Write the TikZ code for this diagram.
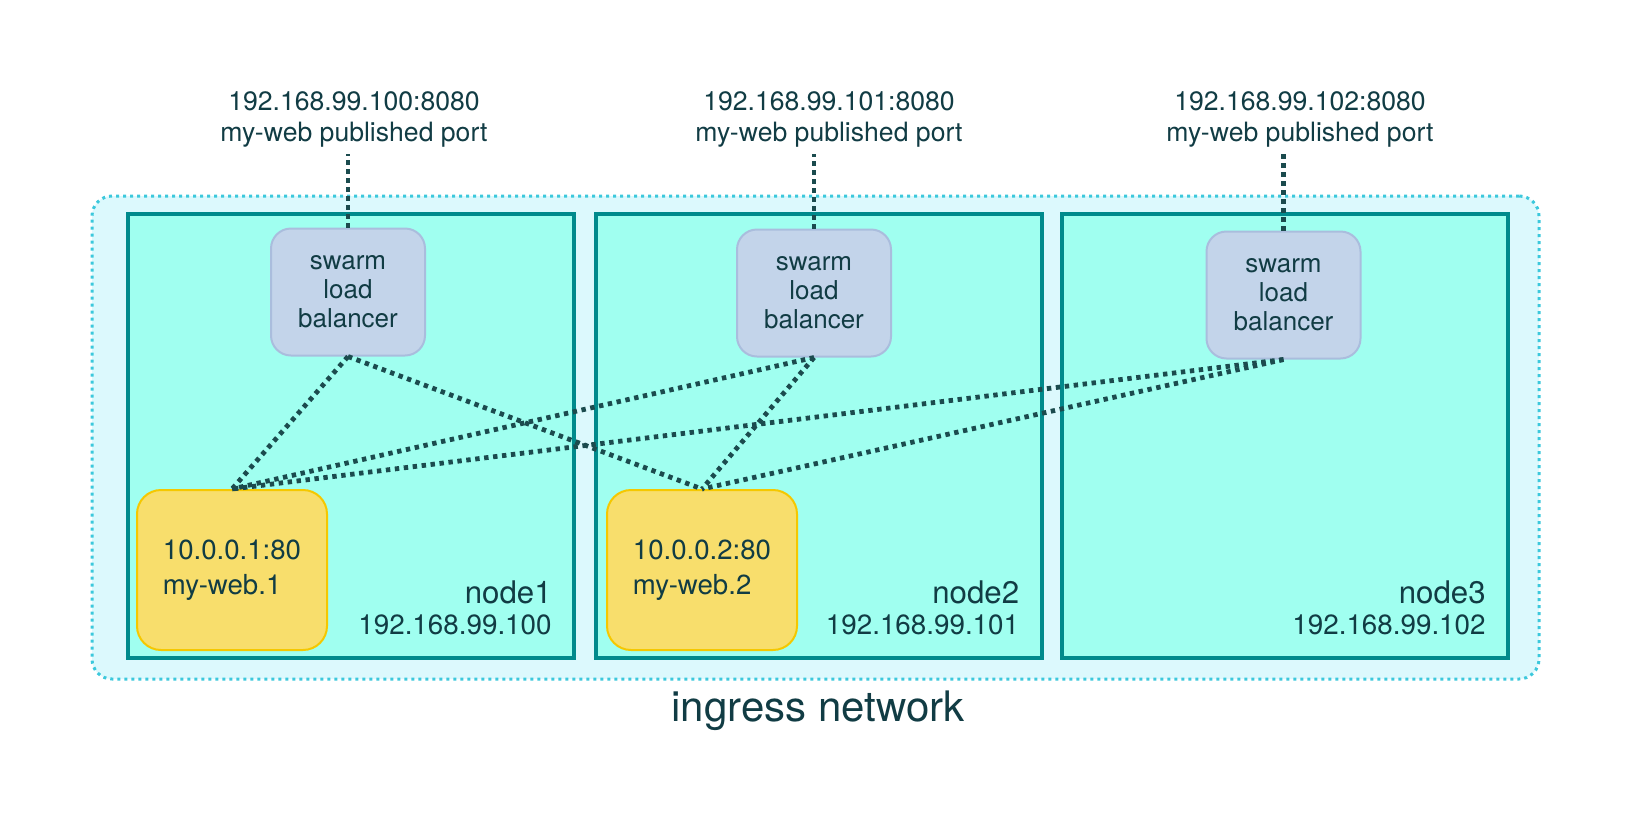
\documentclass[tikz,border=0pt]{standalone}
\usepackage{fontspec}
\setmainfont{TeX Gyre Heros}
\definecolor{ink}{HTML}{113C44}
\definecolor{hostfill}{HTML}{A0FFF0}
\definecolor{hostline}{HTML}{008A8C}
\definecolor{netfill}{HTML}{DCF9FD}
\definecolor{netline}{HTML}{3CC8DC}
\definecolor{lbfill}{HTML}{C3D4EA}
\definecolor{lbline}{HTML}{AABDDD}
\definecolor{webfill}{HTML}{F8DE6C}
\definecolor{webline}{HTML}{F5C800}
\definecolor{linkcol}{HTML}{1B4B4E}
\tikzset{
  net/.style={draw=netline, fill=netfill, line width=1.5pt, dash pattern=on 1.5pt off 2pt,
    rounded corners=10pt, minimum width=723.5pt, minimum height=241.5pt},
  host/.style={draw=hostline, fill=hostfill, line width=2pt, minimum width=223pt, minimum height=222pt},
  lb/.style={draw=lbline, fill=lbfill, line width=1pt, rounded corners=10pt, minimum width=77pt,
    minimum height=63.5pt, align=center, font=\fontsize{13}{14.5}\selectfont},
  web/.style={draw=webline, fill=webfill, line width=1pt, rounded corners=12pt, minimum width=95pt,
    minimum height=80pt, align=left, font=\fontsize{13.8}{17.5}\selectfont},
  pub/.style={align=center, font=\fontsize{13.3}{15.5}\selectfont},
  hostlbl/.style={anchor=south east, align=right, inner sep=0pt, font=\fontsize{13.9}{15.5}\selectfont},
  link/.style={draw=linkcol, line width=2.4pt, dash pattern=on 2.2pt off 2.3pt}
}
\begin{document}
\begin{tikzpicture}[x=0.5pt, y=-0.5pt, every node/.append style={text=ink}]
  \useasboundingbox (0,0) rectangle (1633,815);
  % ingress network
  \node[net] (ingress) at (815.5,437.5) {};
  \node[font=\fontsize{21}{24}\selectfont] (ingresslbl) at (818,711) {ingress network};
  % hosts
  \node[host] (host1) at (351,436) {};
  \node[host] (host2) at (818.5,436) {};
  \node[host] (host3) at (1285,436) {};
  \node[hostlbl] (hostlbl1) at ([shift={(-24,-25)}]host1.south east) {{\fontsize{15.6}{15.5}\selectfont node1}\\192.168.99.100};
  \node[hostlbl] (hostlbl2) at ([shift={(-24,-25)}]host2.south east) {{\fontsize{15.6}{15.5}\selectfont node2}\\192.168.99.101};
  \node[hostlbl] (hostlbl3) at ([shift={(-24,-25)}]host3.south east) {{\fontsize{15.6}{15.5}\selectfont node3}\\192.168.99.102};
  % load balancers and containers
  \node[lb] (lb1) at (348,292) {swarm\\load\\balancer};
  \node[lb] (lb2) at (814,293) {swarm\\load\\balancer};
  \node[lb] (lb3) at (1283.5,295) {swarm\\load\\balancer};
  \node[web] (web1) at (232,570) {10.0.0.1:80\\my-web.1};
  \node[web] (web2) at (702,570) {10.0.0.2:80\\my-web.2};
  % published ports
  \node[pub] (pub1) at (354,119) {192.168.99.100:8080\\my-web published port};
  \node[pub] (pub2) at (829,119) {192.168.99.101:8080\\my-web published port};
  \node[pub] (pub3) at (1300,119) {192.168.99.102:8080\\my-web published port};
  \foreach \b in {1,2,3} {
    \draw[link] (lb\b.north) -- (lb\b.north |- pub\b.south);
    \foreach \w in {1,2}
      \draw[link] (lb\b.south) -- (web\w.north);
  }
\end{tikzpicture}
\end{document}
